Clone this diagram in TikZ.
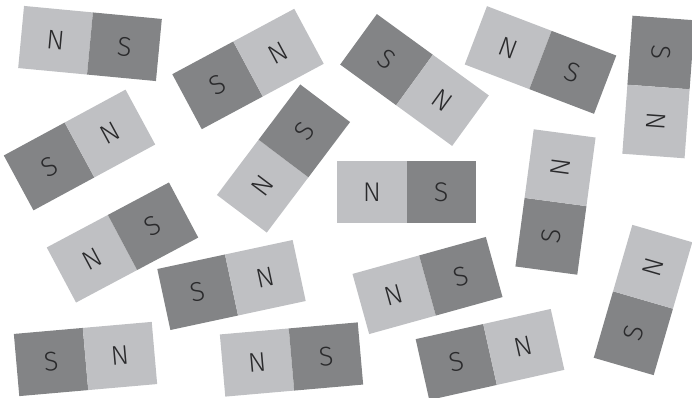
\documentclass[tikz,border=0pt]{standalone}
\usepackage{fontspec}
\setmainfont{Fira Sans}[UprightFont=* Light]
\definecolor{nlight}{HTML}{BFC0C3}
\definecolor{sdark}{HTML}{838486}
\definecolor{letter}{HTML}{2A2A2C}
\tikzset{
  polebase/.style={rectangle, inner sep=0pt, outer sep=0pt,
    minimum width=69.2pt, minimum height=62.4pt, text=letter,
    font=\fontsize{27}{27}\selectfont},
  poleN/.style={polebase, fill=nlight},
  poleS/.style={polebase, fill=sdark},
}
% #1 name, #2 x, #3 y, #4 angle, #5 left pole, #6 right pole
\newcommand{\magnet}[6]{%
  \begin{scope}[shift={(#2,#3)}, rotate=#4, transform shape]
    \node[pole#5, anchor=east] (#1a) at (0,0) {#5};
    \node[pole#6, anchor=west] (#1b) at (0,0) {#6};
  \end{scope}}
\begin{document}
\begin{tikzpicture}[x=1pt, y=-1pt]
\useasboundingbox (0,0) rectangle (692,398);
\clip (0,0) rectangle (692,398);
\magnet{m1}{90}{43.5}{-5.4}{N}{S}
\magnet{m2}{248}{69}{28.2}{S}{N}
\magnet{m3}{414.5}{80}{-36}{S}{N}
\magnet{m4}{540.5}{60}{-20.9}{N}{S}
\magnet{m5}{658.5}{87}{-94.2}{S}{N}
\magnet{m6}{79.5}{150}{28.4}{S}{N}
\magnet{m7}{122.5}{242.5}{28}{N}{S}
\magnet{m8}{283.5}{158.5}{53}{N}{S}
\magnet{m9}{406.5}{192}{0}{N}{S}
\magnet{m10}{555.5}{202}{82.4}{S}{N}
\magnet{m11}{643}{300}{73.8}{S}{N}
\magnet{m12}{427.5}{285.5}{15.5}{N}{S}
\magnet{m13}{490}{354.5}{12.6}{S}{N}
\magnet{m14}{231.5}{285}{12.1}{S}{N}
\magnet{m15}{85.5}{359}{5}{S}{N}
\magnet{m16}{291.5}{359.5}{5}{N}{S}
\end{tikzpicture}
\end{document}
